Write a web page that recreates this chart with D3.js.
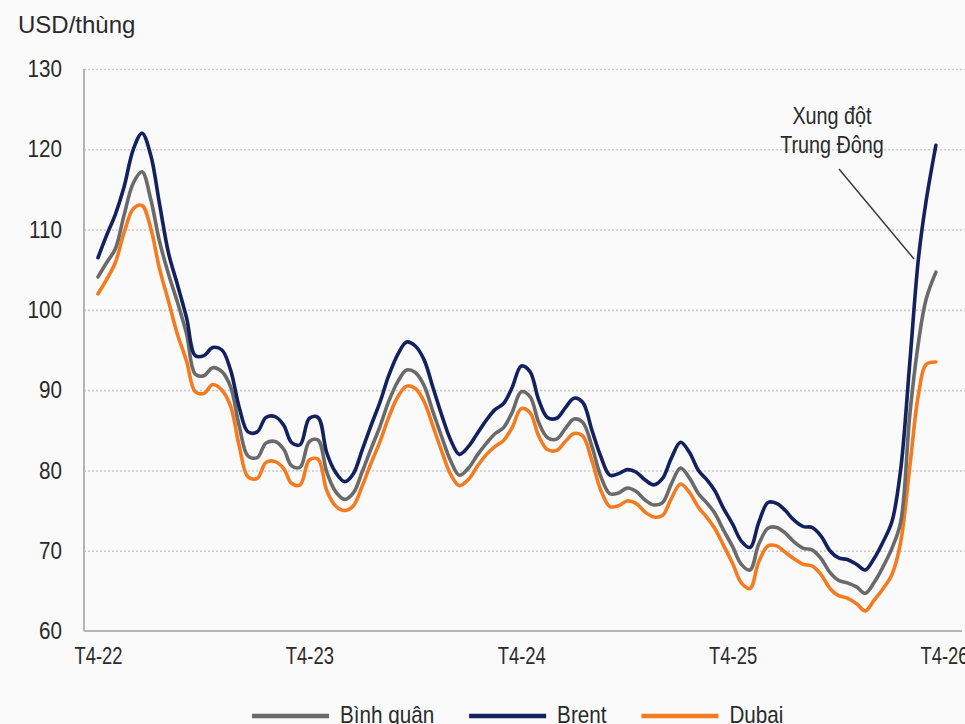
<!DOCTYPE html>
<html>
<head>
<meta charset="utf-8">
<script src="https://cdn.jsdelivr.net/npm/d3@7"></script>
<style>
  html, body { margin: 0; padding: 0; background: #fafafa; }
  svg { display: block; }
  text { font-family: "Liberation Sans", Arial, sans-serif; fill: #2a2a2a; }
</style>
</head>
<body>
<svg id="chart" width="965" height="724"></svg>
<script>
// ---------- data ----------
const yUnit = "USD/thùng";
const tickLabels = ["T4-22", "T4-23", "T4-24", "T4-25", "T4-26"];
const tickDates = ["2022-04-01", "2023-04-01", "2024-04-01", "2025-04-01", "2026-04-01"];
const yTicks = [60, 70, 80, 90, 100, 110, 120, 130];
const seriesNames = ["Bình quân", "Brent", "Dubai"];
// observation dates: 1st and 16th of each month from T4-22, last value mid T3-26
const firstObs = "2022-04-01";
const lastObs = "2026-03-18";

const brent = [106.5,109.3,111.9,115.3,120.0,122.0,119.3,113.3,107.0,103.2,
  99.0,94.3,94.3,95.3,95.0,92.5,87.8,84.8,84.8,86.6,
  86.7,85.6,83.5,83.2,86.5,86.6,82.2,79.8,78.6,79.6,
  82.5,85.5,88.5,91.8,94.5,96.0,95.5,93.8,90.2,86.8,
  83.8,82.0,83.0,84.6,86.3,87.6,88.3,90.3,93.0,92.3,
  88.8,86.6,86.5,87.8,89.0,88.5,85.0,81.8,79.4,79.6,
  80.1,79.8,78.8,78.2,79.0,81.5,83.5,82.3,80.0,78.8,
  77.5,75.3,73.3,71.2,70.4,73.5,76.0,75.9,75.0,73.8,
  73.0,72.9,71.8,70.0,69.1,68.9,68.3,67.6,69.0,71.0,
  73.6,80.0,93.5,106.5,113.5,120.5];

const binhQuan = [104.1,105.9,107.6,111.8,115.8,117.2,113.8,108.6,104.4,101.0,
  97.0,92.0,91.8,92.8,92.3,90.4,85.5,81.8,81.6,83.4,
  83.6,82.6,80.6,80.4,83.6,83.8,79.8,77.4,76.4,77.2,
  79.8,82.6,85.5,88.6,91.1,92.5,92.2,90.6,87.2,84.1,
  81.2,79.4,80.3,81.9,83.4,84.6,85.3,87.2,89.8,89.2,
  86.0,84.1,83.9,85.2,86.4,86.0,83.0,79.3,77.1,77.2,
  77.8,77.4,76.3,75.7,76.0,78.3,80.3,79.1,77.1,75.9,
  74.7,72.6,70.5,68.3,67.6,70.8,72.8,72.9,72.2,71.1,
  70.3,70.1,69.0,67.3,66.3,66.0,65.5,64.7,66.0,67.9,
  70.3,73.5,87.0,96.0,101.3,104.7];

const dubai = [102.0,103.8,105.9,109.6,112.6,113.0,110.2,105.2,101.0,97.0,
  93.6,89.8,89.6,90.7,90.0,88.0,83.0,79.2,79.0,81.0,
  81.1,80.2,78.4,78.2,81.3,81.4,77.5,75.6,75.0,75.6,
  78.0,80.8,83.6,86.6,89.2,90.5,90.2,88.6,85.4,82.3,
  79.5,78.1,78.9,80.5,82.0,83.0,83.7,85.3,87.7,87.2,
  84.3,82.6,82.5,83.6,84.6,84.3,81.2,77.6,75.5,75.6,
  76.2,75.9,74.8,74.2,74.4,76.5,78.3,77.3,75.4,74.1,
  72.8,70.7,68.4,66.0,65.3,68.6,70.6,70.6,69.8,69.0,
  68.3,68.1,67.0,65.3,64.4,64.1,63.4,62.5,63.8,65.2,
  67.0,71.0,80.5,89.5,93.2,93.5];

const annotationLines = ["Xung đột", "Trung Đông"];

// ---------- build ----------
(function () {
const parse = d3.utcParse("%Y-%m-%d");
const start = parse(firstObs);
const obsDates = d3.range(brent.length - 1).map(k => {
  const m = d3.utcMonth.offset(start, Math.floor(k / 2));
  return k % 2 ? d3.utcDay.offset(m, 15) : m;
});
obsDates.push(parse(lastObs));

const colors = { "Bình quân": "#6a6a6a", "Brent": "#13225e", "Dubai": "#f47b20" };
const values = { "Bình quân": binhQuan, "Brent": brent, "Dubai": dubai };
const NARROW = 0.86;
function squeeze(sel, f) {
  sel.each(function () {
    const w = this.getComputedTextLength();
    d3.select(this).attr("textLength", w * f).attr("lengthAdjust", "spacingAndGlyphs");
  });
}

const svg = d3.select("#chart");
const mLeft = 84, mTop = 69, mBottom = 631, mRight = 965;
const x = d3.scaleUtc().domain([parse(tickDates[0]), parse(tickDates[4])]).range([98, 944]);
const y = d3.scaleLinear().domain([60, 130]).range([mBottom, mTop]);

// gridlines
svg.append("g")
  .attr("transform", `translate(${mLeft},0)`)
  .call(d3.axisLeft(y).tickValues(yTicks.slice(1)).tickSize(-(mRight - mLeft)).tickFormat(""))
  .call(g => g.select(".domain").remove())
  .call(g => g.selectAll("line").attr("stroke", "#c9c9c9").attr("stroke-width", 1.6).attr("stroke-dasharray", "2,2"));

// axes lines
svg.append("line").attr("x1", mLeft).attr("x2", mLeft).attr("y1", mTop).attr("y2", mBottom)
  .attr("stroke", "#b5b5b5").attr("stroke-width", 2);
svg.append("line").attr("x1", mLeft).attr("x2", 962).attr("y1", mBottom).attr("y2", mBottom)
  .attr("stroke", "#b5b5b5").attr("stroke-width", 2);

// y labels
svg.append("g")
  .attr("transform", `translate(${mLeft},0)`)
  .call(d3.axisLeft(y).tickValues(yTicks).tickSize(0).tickPadding(22))
  .call(g => g.select(".domain").remove())
  .call(g => g.selectAll("text").attr("font-size", 24).style("fill", "#2a2a2a").call(squeeze, NARROW));

// x labels
svg.append("g")
  .attr("transform", `translate(0,${mBottom})`)
  .call(d3.axisBottom(x).tickValues(tickDates.map(parse)).tickSize(0).tickPadding(17)
        .tickFormat((d, i) => tickLabels[i]))
  .call(g => g.select(".domain").remove())
  .call(g => g.selectAll("text").attr("font-size", 23).style("fill", "#2a2a2a").call(squeeze, 0.8));
svg.selectAll("g").attr("font-family", null);

// unit label
svg.append("text").attr("x", 18).attr("y", 33).attr("font-size", 24).text(yUnit);

// lines
const line = d3.line().x((d, i) => x(obsDates[i])).y(d => y(d)).curve(d3.curveCatmullRom.alpha(0.5));
["Dubai", "Bình quân", "Brent"].forEach(name => {
  svg.append("path").datum(values[name])
    .attr("fill", "none").attr("stroke", colors[name]).attr("stroke-width", 3.6)
    .attr("stroke-linejoin", "round").attr("stroke-linecap", "round")
    .attr("d", line);
});

// annotation
annotationLines.forEach((t, i) => {
  svg.append("text").attr("text-anchor", "middle").attr("font-size", 23)
    .attr("x", 832).attr("y", 124 + i * 29).text(t).call(squeeze, NARROW);
});
svg.append("line").attr("x1", 839).attr("y1", 169).attr("x2", 914).attr("y2", 259)
  .attr("stroke", "#3a3a3a").attr("stroke-width", 1.5);

// legend
const leg = svg.append("g");
let lx = 252;
seriesNames.forEach(name => {
  leg.append("line").attr("x1", lx).attr("x2", lx + 77).attr("y1", 716).attr("y2", 716)
    .attr("stroke", colors[name]).attr("stroke-width", 4.5);
  const t = leg.append("text").attr("x", lx + 88).attr("y", 723).attr("font-size", 24).text(name);
  const w = t.node().getComputedTextLength() * NARROW;
  t.attr("textLength", w).attr("lengthAdjust", "spacingAndGlyphs");
  lx = lx + 88 + w + 35;
});
})();
</script>
</body>
</html>
